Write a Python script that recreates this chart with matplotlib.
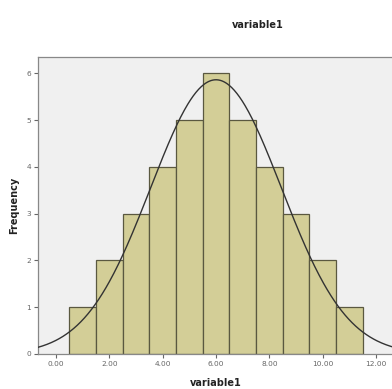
import numpy as np
import matplotlib
matplotlib.use("Agg")
import matplotlib.pyplot as plt

# histogram of variable1 (bin centres and counts)
bin_centers = [1, 2, 3, 4, 5, 6, 7, 8, 9, 10, 11]
counts = [1, 2, 3, 4, 5, 6, 5, 4, 3, 2, 1]
x_ticks = [0, 2, 4, 6, 8, 10, 12]
x_tick_labels = ["0.00", "2.00", "4.00", "6.00", "8.00", "10.00", "12.00"]
y_ticks = [0, 1, 2, 3, 4, 5, 6]

# normal curve fitted to the histogram
vals = np.repeat(bin_centers, counts)
mu = vals.mean()
sd = vals.std(ddof=1)
n = len(vals)
xs = np.linspace(-0.675, 12.675, 400)
ys = n * 1.0 / (sd * np.sqrt(2 * np.pi)) * np.exp(-0.5 * ((xs - mu) / sd) ** 2)

W, H = 392, 389
fig = plt.figure(figsize=(W / 100, H / 100), dpi=100)
ax = fig.add_axes([38 / W, 1 - 354 / H, 356 / W, (354 - 57) / H])
ax.set_facecolor("#f0f0f0")

ax.bar(bin_centers, counts, width=1.0, color="#d3ce97", edgecolor="#5a5840",
       linewidth=0.9, zorder=2)
ax.plot(xs, ys, color="#333333", linewidth=1.0, zorder=3)

ax.set_xlim(-0.675, 12.675)
ax.set_ylim(0, 6.35)
ax.set_xticks(x_ticks)
ax.set_xticklabels(x_tick_labels)
ax.set_yticks(y_ticks)
ax.tick_params(axis="both", labelsize=5.3, colors="#666666", length=3, width=0.8,
               pad=2)
for s in ["left", "top", "bottom"]:
    ax.spines[s].set_color("#888888")
    ax.spines[s].set_linewidth(0.9)
ax.spines["right"].set_visible(False)

ax.set_xlabel("variable1", fontsize=7, fontweight="bold", color="#222222",
              labelpad=8)
ax.set_ylabel("Frequency", fontsize=7, fontweight="bold", color="#222222",
              labelpad=5)
fig.text(258 / W, 1 - 25 / H, "variable1", ha="center", va="center",
         fontsize=7, fontweight="bold", color="#222222")

fig.savefig("out.png", dpi=100)
